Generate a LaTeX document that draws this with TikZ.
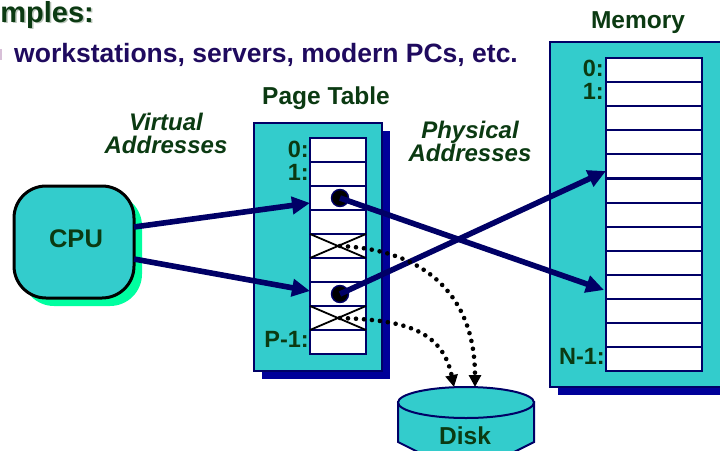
\documentclass[tikz,border=0pt]{standalone}
\usepackage{fontspec}
\setmainfont{Liberation Sans}
\usetikzlibrary{arrows.meta,shapes.geometric}
\definecolor{teal1}{HTML}{33CCCC}
\definecolor{navy1}{HTML}{000066}
\definecolor{shade1}{HTML}{000099}
\definecolor{mint1}{HTML}{00FFA0}
\definecolor{green1}{HTML}{0B3A12}
\definecolor{purple1}{HTML}{1F0A5E}
\definecolor{mauve1}{HTML}{D8C0D8}
\definecolor{gray1}{HTML}{B8C4B8}
\tikzset{
  x=1pt,y=-1pt,
  panel/.style={draw=navy1,line width=1.9pt,fill=teal1},
  cellbox/.style={draw=navy1,line width=2.1pt,fill=white,minimum height=24pt,inner sep=0pt,outer sep=0pt,anchor=north west},
  lab/.style={font=\fontsize{24.5}{23}\selectfont\bfseries,text=green1,inner sep=0pt,anchor=base},
  ital/.style={font=\fontsize{24}{23}\selectfont\bfseries\itshape,text=green1,inner sep=0pt,align=center},
  idx/.style={font=\fontsize{23.5}{22}\selectfont\bfseries,text=green1,inner sep=0pt,anchor=base east},
  mainarrow/.style={draw=navy1,line width=5.6pt,-{Triangle[length=18pt,width=17pt]}},
  dotline/.style={draw=black,line width=4.6pt,line cap=round,dash pattern=on 0pt off 8pt,-{Triangle[length=12pt,width=12pt]}},
  ptrdot/.style={circle,fill=black,draw=navy1,line width=1.4pt,minimum size=17pt,inner sep=0pt},
}
\begin{document}
\begin{tikzpicture}
\useasboundingbox (0,0) rectangle (720,450);
\fill[white] (0,0) rectangle (720,450);

% heading
\node[font=\fontsize{29}{29}\selectfont\bfseries,text=gray1,inner sep=0pt,anchor=base east] (titleshadow) at (95.5,23.5) {mples:};
\node[font=\fontsize{29}{29}\selectfont\bfseries,text=green1,inner sep=0pt,anchor=base east] (title) at (94,22) {mples:};
\fill[mauve1] (0,49) rectangle (2,60);
\node[font=\fontsize{26.5}{26}\selectfont\bfseries,text=purple1,inner sep=0pt,anchor=base west] (sub) at (14,62) {workstations, servers, modern PCs, etc.};

% CPU
\fill[mint1,rounded corners=32pt] (22,194) rectangle (142,306);
\node[draw=black,line width=3pt,fill=teal1,rounded corners=32pt,minimum width=120pt,minimum height=112pt,inner sep=0pt,outer sep=0pt] (cpu) at (74,242) {};
\node[font=\fontsize{25.5}{25}\selectfont\bfseries,text=green1,inner sep=0pt,anchor=base] (cpul) at (76,247) {CPU};

% page table
\fill[shade1] (262,131) rectangle (390,379);
\filldraw[panel] (254,123) rectangle (382,371);
\foreach \i [evaluate=\i as \yy using 138+24*\i] in {0,...,8}{
  \node[cellbox,minimum width=56pt] (p\i) at (310,\yy) {};
}
\draw[black,line width=1.8pt] (p4.north west)--(p4.south east) (p4.north east)--(p4.south west);
\draw[black,line width=1.8pt] (p7.north west)--(p7.south east) (p7.north east)--(p7.south west);
\node[lab] (ptl) at (326,104) {Page Table};
\node[idx] (p0l) at (309,157) {0:};
\node[idx] (p1l) at (309,180) {1:};
\node[idx] (pnl) at (309,347) {P-1:};

% memory
\fill[shade1] (558,50) rectangle (730,395);
\filldraw[panel] (550,42) rectangle (730,387);
\foreach \i [evaluate=\i as \yy using 58+24.1*\i] in {0,...,12}{
  \node[cellbox,minimum width=96pt,minimum height=24.1pt] (m\i) at (606,\yy) {};
}
\node[lab] (meml) at (638,28) {Memory};
\node[idx] (m0l) at (604,76) {0:};
\node[idx] (m1l) at (604,99) {1:};
\node[idx] (mnl) at (605,364) {N-1:};

% labels
\node[ital] (va) at (166,133) {Virtual\\Addresses};
\node[ital] (pa) at (470,141) {Physical\\Addresses};

% disk
\filldraw[draw=navy1,line width=2pt,fill=teal1]
  (398,402) -- (398,442) -- (420,453) -- (512,453) -- (534,442) -- (534,402) -- cycle;
\node[ellipse,draw=navy1,line width=2pt,fill=teal1,minimum width=136pt,minimum height=31pt,inner sep=0pt,outer sep=0pt] (disk) at (466,402.5) {};
\node[lab] (diskl) at (465,444) {Disk};

% pointer dots
\node[ptrdot] (d1) at (340,198) {};
\node[ptrdot] (d2) at (340,294) {};
\coordinate (x1) at (340,246);
\coordinate (x2) at (340,318);

% connectors
\coordinate (c1) at (134,227);
\coordinate (c2) at (134,259);
\coordinate (t1) at (310,203);
\coordinate (t2) at (310,291);
\coordinate (mt1) at (606,171);
\coordinate (mt2) at (604,290);
\draw[mainarrow] (c1) -- (t1);
\draw[mainarrow] (c2) -- (t2);
\draw[mainarrow] (d1.center) -- (mt2);
\draw[mainarrow] (d2.center) -- (mt1);

\coordinate (dk1) at (475,387);
\coordinate (dk2) at (454,387);
\draw[dotline] (x1) .. controls (430,250) and (475,300) .. (dk1);
\draw[dotline] (x2) .. controls (400,320) and (442,328) .. (dk2);
\end{tikzpicture}
\end{document}
